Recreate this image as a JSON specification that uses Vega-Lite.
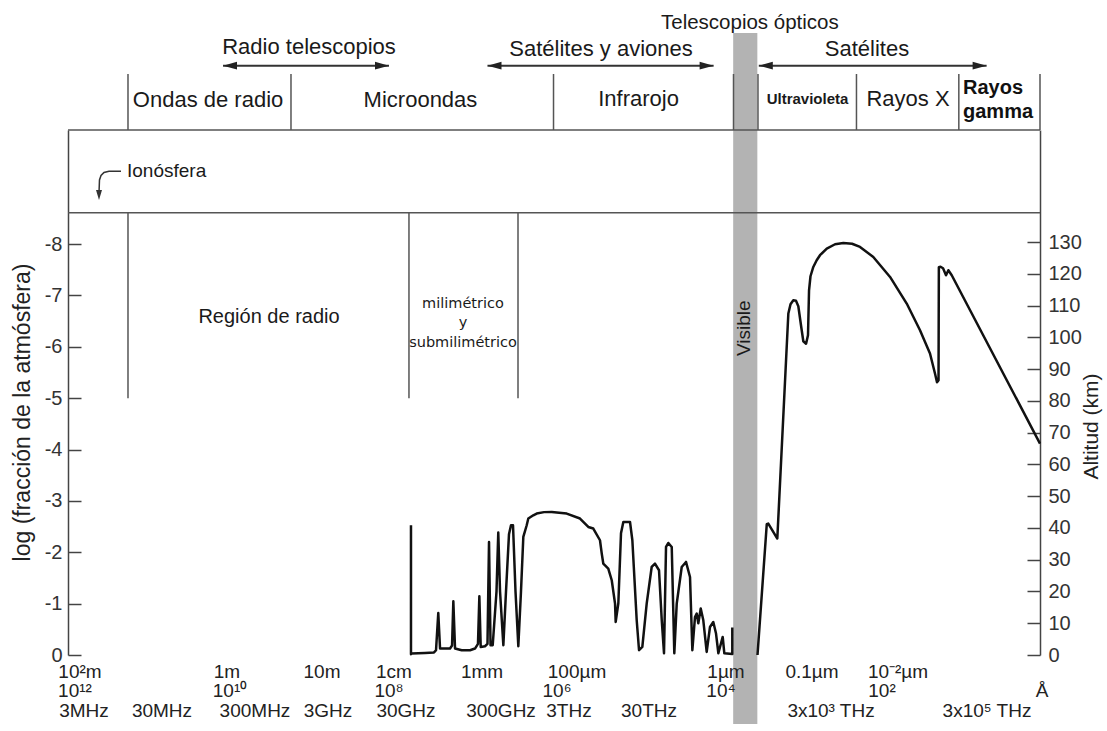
{
  "$schema": "https://vega.github.io/schema/vega-lite/v6.json",
  "width": 972,
  "height": 525,
  "autosize": {"type": "none"},
  "padding": {"left": 68, "top": 130, "right": 67, "bottom": 76},
  "background": "white",
  "config": {"view": {"stroke": null}, "font": "Liberation Sans"},
  "datasets": {
    "bar": [{"x": -6.19, "x2": -6.49, "y": 12.107, "y2": -1.343}],
    "lines": [
      {"x": 2.07, "x2": -10, "y": 10.219, "y2": 10.219},
      {"x": 2.07, "x2": -10, "y": 8.609, "y2": 8.609},
      {"x": 1.325, "x2": 1.325, "y": 10.219, "y2": 11.309},
      {"x": -0.699, "x2": -0.699, "y": 10.219, "y2": 11.309},
      {"x": -3.959, "x2": -3.959, "y": 10.219, "y2": 11.309},
      {"x": -6.194, "x2": -6.194, "y": 10.219, "y2": 11.309},
      {"x": -6.498, "x2": -6.498, "y": 10.219, "y2": 11.309},
      {"x": -7.721, "x2": -7.721, "y": 10.219, "y2": 11.309},
      {"x": -8.992, "x2": -8.992, "y": 10.219, "y2": 11.309},
      {"x": -10, "x2": -10, "y": 10.219, "y2": 11.309},
      {"x": 1.325, "x2": 1.325, "y": 5, "y2": 8.609},
      {"x": -2.164, "x2": -2.164, "y": 5, "y2": 8.609},
      {"x": -3.518, "x2": -3.518, "y": 5, "y2": 8.609}
    ],
    "arrows": [
      {"x": 0.145, "x2": -1.916, "y": 11.471, "y2": 11.471},
      {"x": -3.139, "x2": -5.947, "y": 11.471, "y2": 11.471},
      {"x": -6.508, "x2": -9.337, "y": 11.471, "y2": 11.471}
    ],
    "headsL": [{"x": 0.145, "y": 11.471}, {"x": -3.139, "y": 11.471}, {"x": -6.508, "y": 11.471}],
    "headsR": [{"x": -1.916, "y": 11.471}, {"x": -5.947, "y": 11.471}, {"x": -9.337, "y": 11.471}],
    "iono": [
      {"i": 1, "x": 1.412, "y": 9.415},
      {"i": 2, "x": 1.561, "y": 9.415},
      {"i": 3, "x": 1.623, "y": 9.392},
      {"i": 4, "x": 1.66, "y": 9.333},
      {"i": 5, "x": 1.679, "y": 9.246},
      {"i": 6, "x": 1.685, "y": 9.0}
    ],
    "ionoHead": [{"x": 1.685, "y": 8.856}],
    "tHead": [
      {"t": "Radio telescopios", "x": -0.923, "y": 11.693},
      {"t": "Satélites y aviones", "x": -4.549, "y": 11.659},
      {"t": "Satélites", "x": -7.852, "y": 11.659},
      {"t": "Ondas de radio", "x": 0.331, "y": 10.673},
      {"t": "Microondas", "x": -2.307, "y": 10.673},
      {"t": "Infrarojo", "x": -5.015, "y": 10.686},
      {"t": "Rayos X", "x": -8.361, "y": 10.686}
    ],
    "tOpt": [{"t": "Telescopios ópticos", "x": -6.397, "y": 12.179}],
    "tUV": [{"t": "Ultravioleta", "x": -7.113, "y": 10.719}],
    "tGamma": [{"t": "Rayos", "x": -9.044, "y": 10.914}, {"t": "gamma", "x": -9.044, "y": 10.447}],
    "tIono": [{"t": "Ionósfera", "x": 1.337, "y": 9.31}],
    "tRegion": [{"t": "Región de radio", "x": -0.426, "y": 6.468}],
    "tMili": [
      {"t": "milimétrico", "x": -2.835, "y": 6.748},
      {"t": "y", "x": -2.835, "y": 6.391},
      {"t": "submilimétrico", "x": -2.835, "y": 6.001}
    ],
    "tVis": [{"t": "Visible", "x": -6.33, "y": 6.359}],
    "tBottom": [
      {"t": "10²m", "x": 1.921, "y": -0.448},
      {"t": "1m", "x": 0.096, "y": -0.448},
      {"t": "10m", "x": -1.084, "y": -0.448},
      {"t": "1cm", "x": -1.978, "y": -0.448},
      {"t": "1mm", "x": -3.071, "y": -0.448},
      {"t": "100µm", "x": -4.251, "y": -0.448},
      {"t": "1µm", "x": -6.101, "y": -0.448},
      {"t": "0.1µm", "x": -7.169, "y": -0.448},
      {"t": "10⁻²µm", "x": -8.237, "y": -0.448},
      {"t": "10¹²", "x": 1.983, "y": -0.818},
      {"t": "10¹⁰", "x": 0.058, "y": -0.818},
      {"t": "10⁸", "x": -1.916, "y": -0.818},
      {"t": "10⁶", "x": -4.002, "y": -0.818},
      {"t": "10⁴", "x": -6.039, "y": -0.818},
      {"t": "10²", "x": -8.038, "y": -0.818},
      {"t": "Å", "x": -10.025, "y": -0.818},
      {"t": "3MHz", "x": 1.871, "y": -1.207},
      {"t": "30MHz", "x": 0.903, "y": -1.207},
      {"t": "300MHz", "x": -0.252, "y": -1.207},
      {"t": "3GHz", "x": -1.159, "y": -1.207},
      {"t": "30GHz", "x": -2.127, "y": -1.207},
      {"t": "300GHz", "x": -3.307, "y": -1.207},
      {"t": "3THz", "x": -4.151, "y": -1.207},
      {"t": "30THz", "x": -5.145, "y": -1.207},
      {"t": "3x10³ THz", "x": -7.405, "y": -1.207},
      {"t": "3x10⁵ THz", "x": -9.342, "y": -1.207}
    ],
    "curve": [
      {"seg": "a", "i": 1, "x": -2.189, "km": 40.87},
      {"seg": "a", "i": 2, "x": -2.189, "km": 0.24},
      {"seg": "a", "i": 3, "x": -2.196, "km": 0.46},
      {"seg": "a", "i": 4, "x": -2.363, "km": 0.65},
      {"seg": "a", "i": 5, "x": -2.475, "km": 0.8},
      {"seg": "a", "i": 6, "x": -2.5, "km": 1.5},
      {"seg": "a", "i": 7, "x": -2.528, "km": 13.24},
      {"seg": "a", "i": 8, "x": -2.55, "km": 2.03},
      {"seg": "a", "i": 9, "x": -2.612, "km": 2.03},
      {"seg": "a", "i": 10, "x": -2.674, "km": 2.03},
      {"seg": "a", "i": 11, "x": -2.699, "km": 3.0},
      {"seg": "a", "i": 12, "x": -2.715, "km": 16.93},
      {"seg": "a", "i": 13, "x": -2.736, "km": 2.03},
      {"seg": "a", "i": 14, "x": -2.819, "km": 1.5},
      {"seg": "a", "i": 15, "x": -2.922, "km": 1.5},
      {"seg": "a", "i": 16, "x": -2.984, "km": 2.03},
      {"seg": "a", "i": 17, "x": -3.021, "km": 3.5},
      {"seg": "a", "i": 18, "x": -3.038, "km": 18.5},
      {"seg": "a", "i": 19, "x": -3.055, "km": 2.54},
      {"seg": "a", "i": 20, "x": -3.108, "km": 2.76},
      {"seg": "a", "i": 21, "x": -3.139, "km": 3.5},
      {"seg": "a", "i": 22, "x": -3.158, "km": 35.61},
      {"seg": "a", "i": 23, "x": -3.177, "km": 3.07},
      {"seg": "a", "i": 24, "x": -3.204, "km": 3.07},
      {"seg": "a", "i": 25, "x": -3.251, "km": 20},
      {"seg": "a", "i": 26, "x": -3.273, "km": 38.57},
      {"seg": "a", "i": 27, "x": -3.295, "km": 20},
      {"seg": "a", "i": 28, "x": -3.336, "km": 3.07},
      {"seg": "a", "i": 29, "x": -3.369, "km": 20},
      {"seg": "a", "i": 30, "x": -3.406, "km": 38},
      {"seg": "a", "i": 31, "x": -3.431, "km": 40.87},
      {"seg": "a", "i": 32, "x": -3.456, "km": 40.87},
      {"seg": "a", "i": 33, "x": -3.487, "km": 20},
      {"seg": "a", "i": 34, "x": -3.522, "km": 2.76},
      {"seg": "a", "i": 35, "x": -3.555, "km": 20},
      {"seg": "a", "i": 36, "x": -3.584, "km": 37.18},
      {"seg": "a", "i": 37, "x": -3.626, "km": 40.87},
      {"seg": "a", "i": 38, "x": -3.646, "km": 42.98},
      {"seg": "a", "i": 39, "x": -3.708, "km": 44.0},
      {"seg": "a", "i": 40, "x": -3.75, "km": 44.55},
      {"seg": "a", "i": 41, "x": -3.841, "km": 45.0},
      {"seg": "a", "i": 42, "x": -3.937, "km": 45.06},
      {"seg": "a", "i": 43, "x": -4.123, "km": 44.55},
      {"seg": "a", "i": 44, "x": -4.288, "km": 42.98},
      {"seg": "a", "i": 45, "x": -4.391, "km": 40.33},
      {"seg": "a", "i": 46, "x": -4.453, "km": 39.83},
      {"seg": "a", "i": 47, "x": -4.536, "km": 36.14},
      {"seg": "a", "i": 48, "x": -4.558, "km": 31.95},
      {"seg": "a", "i": 49, "x": -4.577, "km": 28.8},
      {"seg": "a", "i": 50, "x": -4.639, "km": 27.23},
      {"seg": "a", "i": 51, "x": -4.682, "km": 23.54},
      {"seg": "a", "i": 52, "x": -4.723, "km": 16.2},
      {"seg": "a", "i": 53, "x": -4.731, "km": 10.41},
      {"seg": "a", "i": 54, "x": -4.764, "km": 16.3},
      {"seg": "a", "i": 55, "x": -4.797, "km": 38.35},
      {"seg": "a", "i": 56, "x": -4.826, "km": 41.9},
      {"seg": "a", "i": 57, "x": -4.909, "km": 41.9},
      {"seg": "a", "i": 58, "x": -4.938, "km": 36.14},
      {"seg": "a", "i": 59, "x": -4.992, "km": 10.94},
      {"seg": "a", "i": 60, "x": -5.021, "km": 1.5},
      {"seg": "a", "i": 61, "x": -5.062, "km": 2.54},
      {"seg": "a", "i": 62, "x": -5.116, "km": 16.2},
      {"seg": "a", "i": 63, "x": -5.178, "km": 27.73},
      {"seg": "a", "i": 64, "x": -5.219, "km": 28.8},
      {"seg": "a", "i": 65, "x": -5.269, "km": 26.69},
      {"seg": "a", "i": 66, "x": -5.303, "km": 10.94},
      {"seg": "a", "i": 67, "x": -5.331, "km": 0.55},
      {"seg": "a", "i": 68, "x": -5.356, "km": 34.03},
      {"seg": "a", "i": 69, "x": -5.385, "km": 35.29},
      {"seg": "a", "i": 70, "x": -5.427, "km": 34.03},
      {"seg": "a", "i": 71, "x": -5.459, "km": 0.55},
      {"seg": "a", "i": 72, "x": -5.489, "km": 16.2},
      {"seg": "a", "i": 73, "x": -5.551, "km": 27.73},
      {"seg": "a", "i": 74, "x": -5.604, "km": 29.31},
      {"seg": "a", "i": 75, "x": -5.654, "km": 24.58},
      {"seg": "a", "i": 76, "x": -5.683, "km": 1.5},
      {"seg": "a", "i": 77, "x": -5.716, "km": 11.98},
      {"seg": "a", "i": 78, "x": -5.737, "km": 13.06},
      {"seg": "a", "i": 79, "x": -5.757, "km": 10.0},
      {"seg": "a", "i": 80, "x": -5.787, "km": 14.63},
      {"seg": "a", "i": 81, "x": -5.819, "km": 10.94},
      {"seg": "a", "i": 82, "x": -5.861, "km": 0.96},
      {"seg": "a", "i": 83, "x": -5.902, "km": 8.83},
      {"seg": "a", "i": 84, "x": -5.943, "km": 10.41},
      {"seg": "a", "i": 85, "x": -5.977, "km": 6.76},
      {"seg": "a", "i": 86, "x": -6.006, "km": 0.55},
      {"seg": "a", "i": 87, "x": -6.06, "km": 5.69},
      {"seg": "a", "i": 88, "x": -6.08, "km": 0.55},
      {"seg": "a", "i": 89, "x": -6.179, "km": 0.3},
      {"seg": "a", "i": 90, "x": -6.179, "km": 8.65},
      {"seg": "b", "i": 101, "x": -6.492, "km": 0},
      {"seg": "b", "i": 102, "x": -6.607, "km": 41.18},
      {"seg": "b", "i": 103, "x": -6.626, "km": 41.4},
      {"seg": "b", "i": 104, "x": -6.738, "km": 36.68},
      {"seg": "b", "i": 105, "x": -6.875, "km": 107.54},
      {"seg": "b", "i": 106, "x": -6.902, "km": 110.47},
      {"seg": "b", "i": 107, "x": -6.937, "km": 111.73},
      {"seg": "b", "i": 108, "x": -6.97, "km": 111.57},
      {"seg": "b", "i": 109, "x": -6.999, "km": 109.84},
      {"seg": "b", "i": 110, "x": -7.032, "km": 103.86},
      {"seg": "b", "i": 111, "x": -7.061, "km": 98.82},
      {"seg": "b", "i": 112, "x": -7.095, "km": 98.03},
      {"seg": "b", "i": 113, "x": -7.119, "km": 100.71},
      {"seg": "b", "i": 114, "x": -7.132, "km": 114.88},
      {"seg": "b", "i": 115, "x": -7.15, "km": 119.29},
      {"seg": "b", "i": 116, "x": -7.185, "km": 122.22},
      {"seg": "b", "i": 117, "x": -7.227, "km": 124.33},
      {"seg": "b", "i": 118, "x": -7.268, "km": 125.91},
      {"seg": "b", "i": 119, "x": -7.352, "km": 128.02},
      {"seg": "b", "i": 120, "x": -7.455, "km": 129.37},
      {"seg": "b", "i": 121, "x": -7.558, "km": 129.78},
      {"seg": "b", "i": 122, "x": -7.666, "km": 129.53},
      {"seg": "b", "i": 123, "x": -7.765, "km": 128.52},
      {"seg": "b", "i": 124, "x": -7.93, "km": 125.37},
      {"seg": "b", "i": 125, "x": -8.138, "km": 119.07},
      {"seg": "b", "i": 126, "x": -8.345, "km": 110.69},
      {"seg": "b", "i": 127, "x": -8.51, "km": 102.28},
      {"seg": "b", "i": 128, "x": -8.634, "km": 94.94},
      {"seg": "b", "i": 129, "x": -8.696, "km": 88.65},
      {"seg": "b", "i": 130, "x": -8.721, "km": 85.91},
      {"seg": "b", "i": 131, "x": -8.74, "km": 86.54},
      {"seg": "b", "i": 132, "x": -8.744, "km": 122.13},
      {"seg": "b", "i": 133, "x": -8.765, "km": 122.28},
      {"seg": "b", "i": 134, "x": -8.796, "km": 121.81},
      {"seg": "b", "i": 135, "x": -8.833, "km": 119.61},
      {"seg": "b", "i": 136, "x": -8.862, "km": 121.18},
      {"seg": "b", "i": 137, "x": -8.904, "km": 119.61},
      {"seg": "b", "i": 138, "x": -10.0, "km": 66.6}
    ]
  },
  "layer": [
    {
      "data": {"name": "bar"},
      "mark": {"type": "rect", "color": "#b3b3b3"},
      "encoding": {
        "x": {"field": "x", "type": "quantitative", "scale": {"domain": [-10, 2.07], "reverse": true, "nice": false, "zero": false}, "axis": null},
        "x2": {"field": "x2"},
        "y": {"field": "y", "type": "quantitative", "scale": {"domain": [0, 10.219], "nice": false, "zero": false}, "axis": null},
        "y2": {"field": "y2"}
      }
    },
    {
      "data": {"name": "lines"},
      "mark": {"type": "rule", "color": "#555555", "strokeWidth": 1.5},
      "encoding": {
        "x": {"field": "x", "type": "quantitative", "scale": {"domain": [-10, 2.07], "reverse": true, "nice": false, "zero": false},
          "axis": {"values": [1, 0, -1, -2, -3, -4, -5, -6, -7, -8, -9], "labels": false, "title": null, "tickSize": -13, "tickColor": "#444444", "tickWidth": 1.5, "domainColor": "#444444", "domainWidth": 1.5, "grid": false}},
        "x2": {"field": "x2"},
        "y": {"field": "y", "type": "quantitative", "scale": {"domain": [0, 10.219], "nice": false, "zero": false},
          "axis": {"orient": "left", "values": [0, 1, 2, 3, 4, 5, 6, 7, 8], "labelExpr": "datum.value == 0 ? '0' : '-' + datum.value", "grid": false,
            "tickSize": -13, "tickColor": "#444444", "tickWidth": 1.5, "domainColor": "#444444", "domainWidth": 1.5,
            "labelFont": "Liberation Sans", "labelFontSize": 20, "labelColor": "#333333", "labelPadding": 19,
            "title": "log (fracción de la atmósfera)", "titleFont": "Liberation Sans", "titleFontSize": 23, "titleFontWeight": "normal", "titleColor": "#222222",
            "titleAngle": 270, "titleX": -39, "titleY": 282, "titleAlign": "center", "titleBaseline": "alphabetic"}},
        "y2": {"field": "y2"}
      }
    },
    {
      "data": {"name": "arrows"},
      "mark": {"type": "rule", "color": "#333333", "strokeWidth": 2},
      "encoding": {
        "x": {"field": "x", "type": "quantitative", "scale": {"domain": [-10, 2.07], "reverse": true, "nice": false, "zero": false}, "axis": null},
        "x2": {"field": "x2"},
        "y": {"field": "y", "type": "quantitative", "scale": {"domain": [0, 10.219], "nice": false, "zero": false}, "axis": null},
        "y2": {"field": "y2"}
      }
    },
    {
      "data": {"name": "headsL"},
      "mark": {"type": "point", "shape": "M 0 0 L 2 -0.55 L 2 0.55 Z", "filled": true, "size": 196, "color": "#222222", "opacity": 1},
      "encoding": {
        "x": {"field": "x", "type": "quantitative", "scale": {"domain": [-10, 2.07], "reverse": true, "nice": false, "zero": false}, "axis": null},
        "y": {"field": "y", "type": "quantitative", "scale": {"domain": [0, 10.219], "nice": false, "zero": false}, "axis": null}
      }
    },
    {
      "data": {"name": "headsR"},
      "mark": {"type": "point", "shape": "M 0 0 L -2 -0.55 L -2 0.55 Z", "filled": true, "size": 196, "color": "#222222", "opacity": 1},
      "encoding": {
        "x": {"field": "x", "type": "quantitative", "scale": {"domain": [-10, 2.07], "reverse": true, "nice": false, "zero": false}, "axis": null},
        "y": {"field": "y", "type": "quantitative", "scale": {"domain": [0, 10.219], "nice": false, "zero": false}, "axis": null}
      }
    },
    {
      "data": {"name": "iono"},
      "mark": {"type": "line", "color": "#333333", "strokeWidth": 1.5},
      "encoding": {
        "x": {"field": "x", "type": "quantitative", "scale": {"domain": [-10, 2.07], "reverse": true, "nice": false, "zero": false}, "axis": null},
        "y": {"field": "y", "type": "quantitative", "scale": {"domain": [0, 10.219], "nice": false, "zero": false}, "axis": null},
        "order": {"field": "i", "type": "quantitative"}
      }
    },
    {
      "data": {"name": "ionoHead"},
      "mark": {"type": "point", "shape": "M 0 0 L -0.6 -2 L 0.6 -2 Z", "filled": true, "size": 100, "color": "#333333", "opacity": 1},
      "encoding": {
        "x": {"field": "x", "type": "quantitative", "scale": {"domain": [-10, 2.07], "reverse": true, "nice": false, "zero": false}, "axis": null},
        "y": {"field": "y", "type": "quantitative", "scale": {"domain": [0, 10.219], "nice": false, "zero": false}, "axis": null}
      }
    },
    {
      "data": {"name": "tHead"},
      "mark": {"type": "text", "font": "Liberation Sans", "fontSize": 22, "align": "center", "baseline": "alphabetic", "color": "#1a1a1a"},
      "encoding": {
        "x": {"field": "x", "type": "quantitative", "scale": {"domain": [-10, 2.07], "reverse": true, "nice": false, "zero": false}, "axis": null},
        "y": {"field": "y", "type": "quantitative", "scale": {"domain": [0, 10.219], "nice": false, "zero": false}, "axis": null},
        "text": {"field": "t"}
      }
    },
    {
      "data": {"name": "tOpt"},
      "mark": {"type": "text", "font": "Liberation Sans", "fontSize": 20.5, "align": "center", "baseline": "alphabetic", "color": "#1a1a1a"},
      "encoding": {
        "x": {"field": "x", "type": "quantitative", "scale": {"domain": [-10, 2.07], "reverse": true, "nice": false, "zero": false}, "axis": null},
        "y": {"field": "y", "type": "quantitative", "scale": {"domain": [0, 10.219], "nice": false, "zero": false}, "axis": null},
        "text": {"field": "t"}
      }
    },
    {
      "data": {"name": "tUV"},
      "mark": {"type": "text", "font": "Liberation Sans", "fontSize": 15, "fontWeight": "bold", "align": "center", "baseline": "alphabetic", "color": "#1a1a1a"},
      "encoding": {
        "x": {"field": "x", "type": "quantitative", "scale": {"domain": [-10, 2.07], "reverse": true, "nice": false, "zero": false}, "axis": null},
        "y": {"field": "y", "type": "quantitative", "scale": {"domain": [0, 10.219], "nice": false, "zero": false}, "axis": null},
        "text": {"field": "t"}
      }
    },
    {
      "data": {"name": "tGamma"},
      "mark": {"type": "text", "font": "Liberation Sans", "fontSize": 20, "fontWeight": "bold", "align": "left", "baseline": "alphabetic", "color": "#111111"},
      "encoding": {
        "x": {"field": "x", "type": "quantitative", "scale": {"domain": [-10, 2.07], "reverse": true, "nice": false, "zero": false}, "axis": null},
        "y": {"field": "y", "type": "quantitative", "scale": {"domain": [0, 10.219], "nice": false, "zero": false}, "axis": null},
        "text": {"field": "t"}
      }
    },
    {
      "data": {"name": "tIono"},
      "mark": {"type": "text", "font": "Liberation Sans", "fontSize": 19, "align": "left", "baseline": "alphabetic", "color": "#1a1a1a"},
      "encoding": {
        "x": {"field": "x", "type": "quantitative", "scale": {"domain": [-10, 2.07], "reverse": true, "nice": false, "zero": false}, "axis": null},
        "y": {"field": "y", "type": "quantitative", "scale": {"domain": [0, 10.219], "nice": false, "zero": false}, "axis": null},
        "text": {"field": "t"}
      }
    },
    {
      "data": {"name": "tRegion"},
      "mark": {"type": "text", "font": "Liberation Sans", "fontSize": 20, "align": "center", "baseline": "alphabetic", "color": "#1a1a1a"},
      "encoding": {
        "x": {"field": "x", "type": "quantitative", "scale": {"domain": [-10, 2.07], "reverse": true, "nice": false, "zero": false}, "axis": null},
        "y": {"field": "y", "type": "quantitative", "scale": {"domain": [0, 10.219], "nice": false, "zero": false}, "axis": null},
        "text": {"field": "t"}
      }
    },
    {
      "data": {"name": "tMili"},
      "mark": {"type": "text", "font": "DejaVu Sans", "fontSize": 14.5, "align": "center", "baseline": "alphabetic", "color": "#1a1a1a"},
      "encoding": {
        "x": {"field": "x", "type": "quantitative", "scale": {"domain": [-10, 2.07], "reverse": true, "nice": false, "zero": false}, "axis": null},
        "y": {"field": "y", "type": "quantitative", "scale": {"domain": [0, 10.219], "nice": false, "zero": false}, "axis": null},
        "text": {"field": "t"}
      }
    },
    {
      "data": {"name": "tVis"},
      "mark": {"type": "text", "font": "Liberation Sans", "fontSize": 19, "align": "center", "baseline": "middle", "angle": 270, "color": "#1a1a1a"},
      "encoding": {
        "x": {"field": "x", "type": "quantitative", "scale": {"domain": [-10, 2.07], "reverse": true, "nice": false, "zero": false}, "axis": null},
        "y": {"field": "y", "type": "quantitative", "scale": {"domain": [0, 10.219], "nice": false, "zero": false}, "axis": null},
        "text": {"field": "t"}
      }
    },
    {
      "data": {"name": "tBottom"},
      "mark": {"type": "text", "font": "Liberation Sans", "fontSize": 19, "align": "center", "baseline": "alphabetic", "color": "#222222"},
      "encoding": {
        "x": {"field": "x", "type": "quantitative", "scale": {"domain": [-10, 2.07], "reverse": true, "nice": false, "zero": false}, "axis": null},
        "y": {"field": "y", "type": "quantitative", "scale": {"domain": [0, 10.219], "nice": false, "zero": false}, "axis": null},
        "text": {"field": "t"}
      }
    },
    {
      "data": {"name": "curve"},
      "mark": {"type": "line", "color": "#111111", "strokeWidth": 2.5, "strokeJoin": "round"},
      "encoding": {
        "x": {"field": "x", "type": "quantitative", "scale": {"domain": [-10, 2.07], "reverse": true, "nice": false, "zero": false}, "axis": null},
        "y": {"field": "km", "type": "quantitative", "scale": {"domain": [0, 165.354], "nice": false, "zero": false},
          "axis": {"orient": "right", "values": [0, 10, 20, 30, 40, 50, 60, 70, 80, 90, 100, 110, 120, 130], "grid": false,
            "tickSize": -13, "tickColor": "#444444", "tickWidth": 1.5, "domainColor": "#444444", "domainWidth": 1.5,
            "labelFont": "Liberation Sans", "labelFontSize": 20, "labelColor": "#333333", "labelPadding": 21,
            "title": "Altitud (km)", "titleFont": "Liberation Sans", "titleFontSize": 21, "titleFontWeight": "normal", "titleColor": "#222222",
            "titleAngle": 270, "titleX": 57, "titleY": 296, "titleAlign": "center", "titleBaseline": "alphabetic"}},
        "detail": {"field": "seg"},
        "order": {"field": "i", "type": "quantitative"}
      }
    }
  ],
  "resolve": {"scale": {"y": "independent"}}
}
